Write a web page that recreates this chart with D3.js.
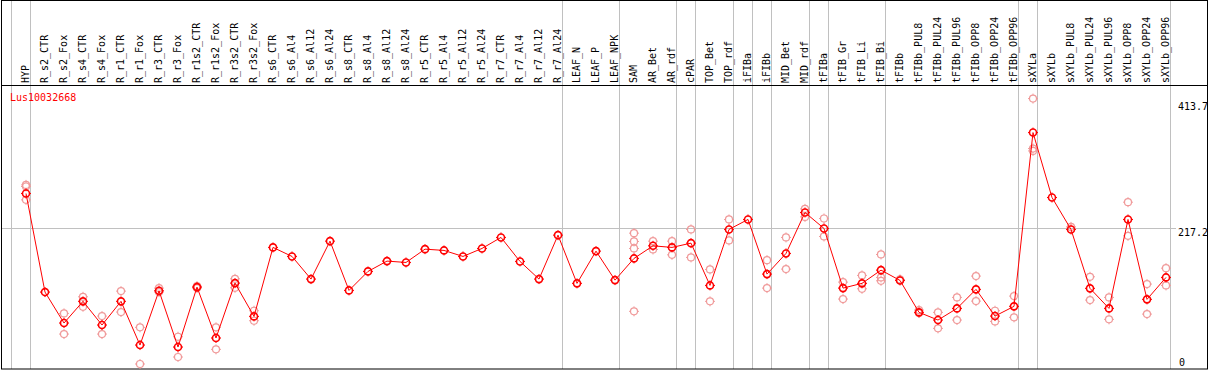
<!DOCTYPE html>
<html>
<head>
<meta charset="utf-8">
<script src="https://cdn.jsdelivr.net/npm/d3@7"></script>
<style>
  body { margin: 0; background: #fff; }
  text { font-family: "DejaVu Sans Mono", monospace; font-size: 10px; }
</style>
</head>
<body>
<svg width="1209" height="370"></svg>
<script>
const geneName = "Lus10032668";

const samples = ["HYP", "R_s2_CTR", "R_s2_Fox", "R_s4_CTR", "R_s4_Fox", "R_r1_CTR", "R_r1_Fox",
  "R_r3_CTR", "R_r3_Fox", "R_r1s2_CTR", "R_r1s2_Fox", "R_r3s2_CTR", "R_r3s2_Fox", "R_s6_CTR",
  "R_s6_Al4", "R_s6_Al12", "R_s6_Al24", "R_s8_CTR", "R_s8_Al4", "R_s8_Al12", "R_s8_Al24",
  "R_r5_CTR", "R_r5_Al4", "R_r5_Al12", "R_r5_Al24", "R_r7_CTR", "R_r7_Al4", "R_r7_Al12",
  "R_r7_Al24", "LEAF_N", "LEAF_P", "LEAF_NPK", "SAM", "AR_Bet", "AR_rdf", "cPAR", "TOP_Bet",
  "TOP_rdf", "iFIBa", "iFIBb", "MID_Bet", "MID_rdf", "tFIBa", "tFIB_Gr", "tFIB_Li", "tFIB_Bi",
  "tFIBb", "tFIBb_PUL8", "tFIBb_PUL24", "tFIBb_PUL96", "tFIBb_OPP8", "tFIBb_OPP24",
  "tFIBb_OPP96", "sXYLa", "sXYLb", "sXYLb_PUL8", "sXYLb_PUL24", "sXYLb_PUL96", "sXYLb_OPP8",
  "sXYLb_OPP24", "sXYLb_OPP96"];

// mean expression per sample
const means = [271.2, 117.1, 68.7, 102.6, 65.6, 102.6, 34.3, 119.1, 31.2, 124.9, 45.3, 131.1,
  79.1, 186.9, 172.8, 137.4, 196.7, 119.7, 149.4, 165.5, 163.4, 184.2, 182.2, 172.8, 185.3,
  202.5, 165.0, 137.4, 206.1, 130.7, 181.1, 135.8, 169.7, 189.4, 186.9, 193.6, 127.5, 215.0,
  230.6, 145.2, 177.5, 241.5, 216.5, 123.3, 130.7, 151.4, 135.3, 85.4, 73.4, 91.6, 121.3, 79.6,
  94.8, 366.4, 264.9, 215.0, 122.9, 91.6, 230.6, 105.7, 140.0];

// single replicates per sample
const replicates = [[284.6, 282.1, 261.2], [], [83.8, 51.5], [109.7, 94.1], [79.6, 51.5],
  [118.6, 85.9], [62.0, 4.7], [123.3, 117.1], [47.3, 15.6], [126.4, 123.3], [62.0, 27.6],
  [137.8, 123.8], [87.9, 72.3], [], [], [], [], [], [], [], [], [], [], [], [], [], [], [], [],
  [], [], [], [209.2, 196.2, 185.3, 87.0], [196.7, 183.7], [196.7, 175.3], [215.0, 171.3],
  [152.5, 102.6], [230.6, 197.8], [], [167.0, 123.3], [202.5, 153.0], [247.1, 234.6],
  [232.1, 204.0], [132.7, 106.2], [143.2, 122.2], [175.9, 140.0, 134.7], [136.9], [89.0, 84.3],
  [85.4, 60.4], [108.8, 73.4], [142.1, 103.0], [87.9, 71.3], [110.8, 77.6],
  [419.5, 341.4, 337.7], [], [219.0], [141.0, 104.6], [108.8, 74.5], [257.6, 205.0],
  [129.6, 82.7], [154.5, 127.5]];

// a grey separator is drawn after each of these samples
const groupEnds = ["HYP", "R_r7_Al24", "LEAF_NPK", "AR_rdf", "cPAR", "TOP_rdf", "iFIBa", "iFIBb",
  "MID_rdf", "tFIBa", "tFIB_Bi", "tFIBb_OPP96", "sXYLa", "sXYLb_OPP96"];

const yTicks = [0, 217.2, 413.7];

const svg = d3.select("svg");
const width = +svg.attr("width");
const height = +svg.attr("height");

const headerBottom = 85.5;
const plotBottom = 369;

const x = d3.scaleBand()
  .domain(samples)
  .range([11, 11 + 19 * samples.length]);
const cx = d => x(d) + 15;

const y = d3.scaleLinear()
  .domain([0, 413.7])
  .range([367, 102.3]);

// separators
const sepX = [x.range()[0]].concat(groupEnds.map(d => x(d) + x.bandwidth()));
svg.append("g").selectAll("line")
  .data(sepX)
  .enter().append("line")
  .attr("x1", d => d + 0.5).attr("x2", d => d + 0.5)
  .attr("y1", 0).attr("y2", plotBottom)
  .attr("stroke", "#c0c0c0");

// mid grid line
svg.append("line")
  .attr("x1", 1).attr("x2", 1176)
  .attr("y1", Math.round(y(yTicks[1])) + 0.5).attr("y2", Math.round(y(yTicks[1])) + 0.5)
  .attr("stroke", "#c0c0c0");

// frame
svg.append("rect")
  .attr("x", 1.5).attr("y", 0.5)
  .attr("width", width - 3).attr("height", plotBottom - 0.5)
  .attr("fill", "none")
  .attr("stroke", "#000");
svg.append("line")
  .attr("x1", 1).attr("x2", width - 1)
  .attr("y1", headerBottom).attr("y2", headerBottom)
  .attr("stroke", "#000");

// rotated sample labels
svg.append("g").selectAll("text")
  .data(samples)
  .enter().append("text")
  .attr("transform", d => `translate(${cx(d) + 3},83) rotate(-90)`)
  .attr("fill", "#000")
  .text(d => d);

svg.append("text")
  .attr("x", 10).attr("y", 101)
  .attr("fill", "#ff0000")
  .text(geneName);

// value labels on the right
svg.append("g").selectAll("text")
  .data(yTicks)
  .enter().append("text")
  .attr("x", d => d === 0 ? 1179 : 1178)
  .attr("y", d => Math.min(y(d) + 8, 365.5))
  .attr("fill", "#000")
  .text(d => d === 0 ? "0" : d.toFixed(1));

// gear-like marker
function marker(sel, color, sw) {
  sel.append("circle")
    .attr("r", 3.5)
    .attr("fill", "none")
    .attr("stroke", color)
    .attr("stroke-width", sw);
  [[0, -1], [0, 1], [-1, 0], [1, 0]].forEach(([dx, dy]) => {
    sel.append("line")
      .attr("x1", dx * 3.5).attr("y1", dy * 3.5)
      .attr("x2", dx * 5).attr("y2", dy * 5)
      .attr("stroke", color)
      .attr("stroke-width", 1);
  });
}

const repPoints = [];
samples.forEach((s, i) => replicates[i].forEach(v => repPoints.push({ s, v })));

svg.append("g").selectAll("g")
  .data(repPoints)
  .enter().append("g")
  .attr("transform", d => `translate(${cx(d.s)},${y(d.v)})`)
  .call(marker, "#f09a9a", 1.2);

const meanPoints = samples.map((s, i) => ({ s, v: means[i] }));

svg.append("path")
  .datum(meanPoints)
  .attr("fill", "none")
  .attr("stroke", "#ff0000")
  .attr("stroke-width", 1)
  .attr("d", d3.line().x(d => cx(d.s)).y(d => y(d.v)));

svg.append("g").selectAll("g")
  .data(meanPoints)
  .enter().append("g")
  .attr("transform", d => `translate(${cx(d.s)},${y(d.v)})`)
  .call(marker, "#ff0000", 1.6);
</script>
</body>
</html>
